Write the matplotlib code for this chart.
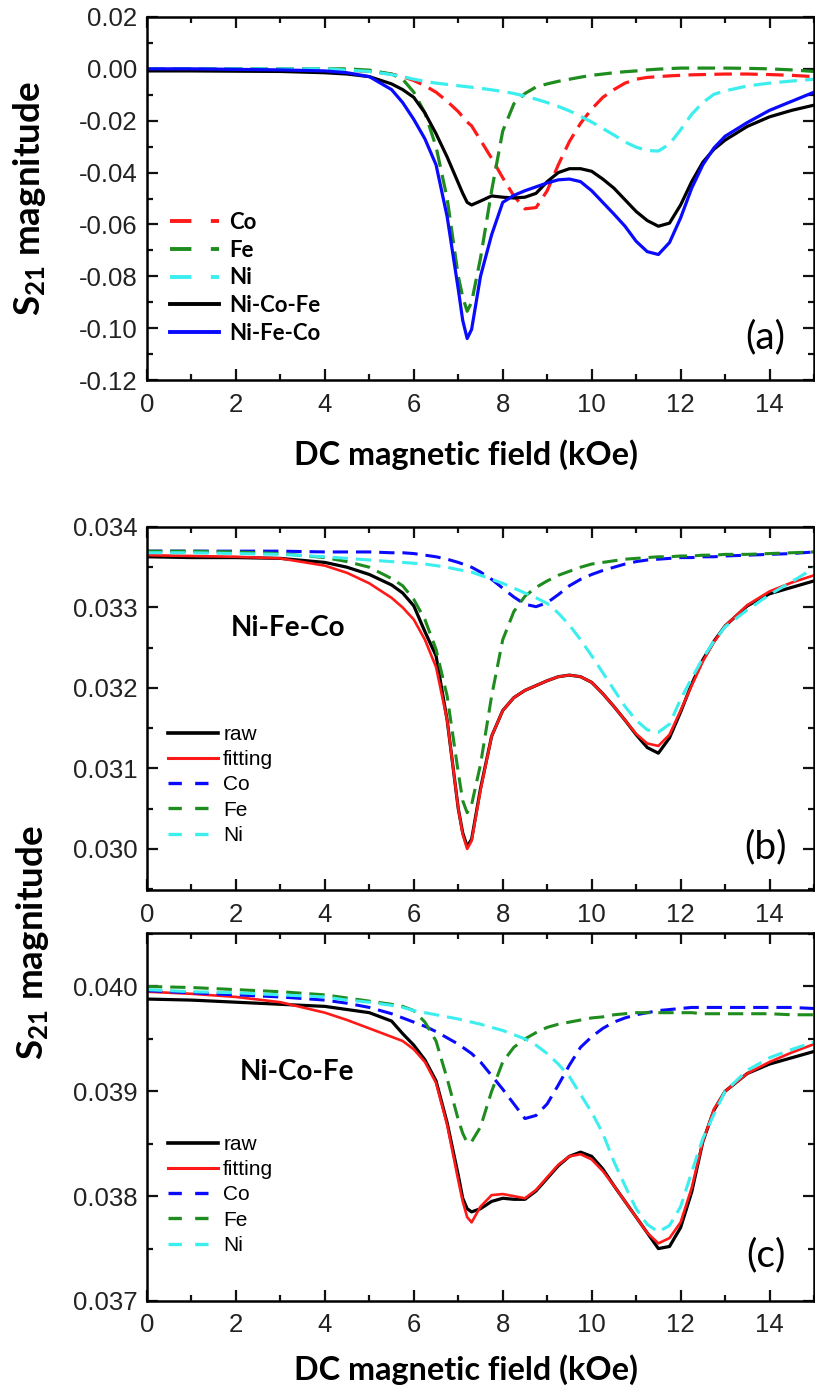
import matplotlib
matplotlib.use("Agg")
import matplotlib.pyplot as plt
from matplotlib.ticker import MultipleLocator, FixedLocator, FixedFormatter
from matplotlib.lines import Line2D

plt.rcParams['mathtext.fontset'] = 'custom'
plt.rcParams['mathtext.rm'] = 'Lato'
plt.rcParams['mathtext.bf'] = 'Lato:bold'
plt.rcParams['mathtext.it'] = 'Lato:italic'

# ---------------- data ----------------
H = [0, 1, 2, 3, 4, 4.5, 5, 5.5, 5.75, 6, 6.25, 6.5, 6.75, 7, 7.1, 7.2, 7.3, 7.5, 7.75,
     8, 8.25, 8.5, 8.75, 9, 9.25, 9.5, 9.75, 10, 10.25, 10.5, 10.75, 11, 11.25, 11.5, 11.75,
     12, 12.25, 12.5, 12.75, 13, 13.5, 14, 14.5, 15]

# panel (a)
a_co = [0, 0, 0, 0, -0.0003, -0.0005, -0.001, -0.002, -0.003, -0.0045, -0.0065, -0.009, -0.0125,
        -0.0165, -0.0185, -0.0205, -0.022, -0.0275, -0.0345, -0.042, -0.049, -0.054, -0.0535,
        -0.047, -0.037, -0.028, -0.021, -0.0155, -0.011, -0.008, -0.0055, -0.004, -0.0033, -0.003,
        -0.0027, -0.0025, -0.0023, -0.0022, -0.0021, -0.002, -0.002, -0.0022, -0.0025, -0.003]
a_fe = [0, 0, 0, 0, 0, 0, -0.0005, -0.002, -0.004, -0.009, -0.017, -0.03, -0.05, -0.08, -0.088,
        -0.0935, -0.09, -0.073, -0.047, -0.024, -0.0135, -0.0095, -0.007, -0.0058, -0.0048, -0.004,
        -0.0032, -0.0025, -0.002, -0.0015, -0.0011, -0.0008, -0.0004, -0.0001, 0.0001, 0.0003,
        0.0003, 0.0003, 0.0003, 0.0003, 0.0002, 0.0, -0.0004, -0.001]
a_ni = [0, 0, 0, 0, 0, -0.0005, -0.001, -0.0022, -0.003, -0.004, -0.0048, -0.0055, -0.006, -0.0065,
        -0.0067, -0.0069, -0.0071, -0.0075, -0.0081, -0.0087, -0.0095, -0.0105, -0.0117, -0.013,
        -0.0145, -0.0162, -0.0183, -0.0205, -0.023, -0.0255, -0.0282, -0.0302, -0.0315, -0.0317,
        -0.029, -0.0235, -0.0175, -0.013, -0.0098, -0.0085, -0.0066, -0.0055, -0.0047, -0.004]
a_nicofe = [-0.0008, -0.0008, -0.0009, -0.001, -0.0015, -0.002, -0.003, -0.0058, -0.008, -0.011,
            -0.017, -0.025, -0.034, -0.044, -0.048, -0.0515, -0.0525, -0.051, -0.049, -0.0495,
            -0.0498, -0.0495, -0.048, -0.0435, -0.04, -0.0385, -0.0385, -0.0395, -0.0425, -0.046,
            -0.0505, -0.055, -0.0585, -0.0607, -0.0595, -0.0525, -0.0435, -0.036, -0.031, -0.0275,
            -0.0222, -0.0185, -0.016, -0.014]
a_nifeco = [0.0, 0.0, -0.0002, -0.0004, -0.0008, -0.0015, -0.003, -0.008, -0.013, -0.0195, -0.027,
            -0.037, -0.057, -0.085, -0.097, -0.104, -0.1005, -0.08, -0.064, -0.0515, -0.0488, -0.047,
            -0.0455, -0.044, -0.0428, -0.0425, -0.0435, -0.047, -0.0515, -0.056, -0.0607, -0.0665,
            -0.0705, -0.0716, -0.067, -0.0575, -0.046, -0.037, -0.0305, -0.026, -0.0207, -0.016,
            -0.0125, -0.009]

# panel (b) Ni-Fe-Co
b_raw = [0.03363, 0.03362, 0.03362, 0.03361, 0.03356, 0.0335, 0.03341, 0.03328, 0.03318, 0.03302,
         0.0327, 0.0324, 0.0316, 0.0305, 0.0302, 0.03003, 0.03012, 0.03075, 0.0314, 0.03172,
         0.03188, 0.03197, 0.03203, 0.03209, 0.03214, 0.03216, 0.03214, 0.03207, 0.03193, 0.03177,
         0.0316, 0.03142, 0.03126, 0.03119, 0.03138, 0.0317, 0.03205, 0.03235, 0.03258, 0.03277,
         0.03302, 0.03317, 0.03325, 0.03333]
b_fit = [0.03365, 0.03364, 0.03363, 0.03361, 0.03352, 0.03343, 0.0333, 0.03312, 0.033, 0.03285,
         0.0326, 0.03226, 0.0316, 0.0305, 0.03018, 0.03, 0.0301, 0.03073, 0.0314, 0.03172, 0.03188,
         0.03197, 0.03203, 0.03209, 0.03214, 0.03216, 0.03214, 0.03207, 0.03193, 0.03177, 0.0316,
         0.03143, 0.03131, 0.03128, 0.03142, 0.03172, 0.03203, 0.03233, 0.03257, 0.03277, 0.03303,
         0.0332, 0.03331, 0.0334]
b_co = [0.0337, 0.0337, 0.0337, 0.0337, 0.03369, 0.03369, 0.03369, 0.03368, 0.03368, 0.03367,
        0.03365, 0.03363, 0.0336, 0.03356, 0.03354, 0.03352, 0.0335, 0.03344, 0.03335, 0.03324,
        0.03313, 0.03304, 0.03301, 0.03306, 0.03316, 0.03327, 0.03335, 0.03341, 0.03346, 0.0335,
        0.03354, 0.03357, 0.03359, 0.0336, 0.03361, 0.03362, 0.03362, 0.03363, 0.03363, 0.03364,
        0.03365, 0.03366, 0.03367, 0.03369]
b_fe = [0.0337, 0.0337, 0.03369, 0.03367, 0.03362, 0.03357, 0.0335, 0.03336, 0.03327, 0.0331,
        0.03285, 0.03248, 0.0319, 0.03095, 0.0306, 0.03045, 0.03055, 0.03105, 0.0319, 0.0326,
        0.03295, 0.03314, 0.03325, 0.03333, 0.0334, 0.03345, 0.0335, 0.03354, 0.03356, 0.03358,
        0.0336, 0.03361, 0.03362, 0.03363, 0.03363, 0.03364, 0.03364, 0.03365, 0.03365, 0.03366,
        0.03366, 0.03367, 0.03368, 0.03369]
b_ni = [0.03368, 0.03368, 0.03367, 0.03366, 0.03363, 0.03361, 0.03359, 0.03357, 0.03356, 0.03355,
        0.03354, 0.03352, 0.0335, 0.03347, 0.03346, 0.03345, 0.03344, 0.0334, 0.03335, 0.0333,
        0.03324, 0.03318, 0.03312, 0.03305, 0.03293, 0.03278, 0.0326, 0.0324, 0.03219, 0.03198,
        0.03177, 0.0316, 0.03148, 0.03145, 0.03155, 0.03186, 0.03212, 0.03237, 0.03258, 0.03276,
        0.03297, 0.03316, 0.03332, 0.03349]

# panel (c) Ni-Co-Fe
c_raw = [0.03988, 0.03987, 0.03985, 0.03983, 0.03981, 0.03978, 0.03975, 0.03967, 0.03955, 0.03944,
         0.0393, 0.0391, 0.0387, 0.0382, 0.03798, 0.03788, 0.03785, 0.03788, 0.03795, 0.03798,
         0.03797, 0.03797, 0.03805, 0.03817, 0.03829, 0.03838, 0.03842, 0.03838, 0.03826, 0.0381,
         0.03795, 0.0378, 0.03765, 0.0375, 0.03752, 0.0377, 0.03804, 0.03852, 0.03882, 0.039,
         0.03917, 0.03926, 0.03932, 0.03938]
c_fit = [0.03995, 0.03993, 0.0399, 0.03985, 0.03975, 0.03968, 0.0396, 0.03952, 0.03948, 0.0394,
         0.03928, 0.03908, 0.03868, 0.03815, 0.03795, 0.0378, 0.03775, 0.0379, 0.03801, 0.03802,
         0.038, 0.03798, 0.03806, 0.03818, 0.0383, 0.03838, 0.0384, 0.03835, 0.03824, 0.0381,
         0.03795, 0.0378, 0.03765, 0.03755, 0.0376, 0.03775, 0.03808, 0.03852, 0.03883, 0.039,
         0.03917, 0.03928, 0.03937, 0.03945]
c_co = [0.03996, 0.03994, 0.03992, 0.0399, 0.03987, 0.03984, 0.0398, 0.03974, 0.0397, 0.03966,
        0.03962, 0.03957, 0.03951, 0.03945, 0.03942, 0.03939, 0.03936, 0.03928, 0.03915, 0.03902,
        0.03888, 0.03874, 0.03877, 0.03888, 0.03906, 0.03925, 0.03942, 0.03952, 0.0396, 0.03966,
        0.0397, 0.03973, 0.03975, 0.03977, 0.03978, 0.03979, 0.0398, 0.0398, 0.0398, 0.0398,
        0.0398, 0.0398, 0.0398, 0.03979]
c_fe = [0.04, 0.03999, 0.03997, 0.03995, 0.03992, 0.03989, 0.03986, 0.03983, 0.03981, 0.03977,
        0.03966, 0.03948, 0.03912, 0.03873, 0.0386, 0.03851, 0.03852, 0.03866, 0.039, 0.03928,
        0.03942, 0.0395, 0.03956, 0.03961, 0.03964, 0.03966, 0.03968, 0.0397, 0.03971, 0.03973,
        0.03974, 0.03975, 0.03975, 0.03975, 0.03975, 0.03975, 0.03975, 0.03974, 0.03974, 0.03974,
        0.03974, 0.03974, 0.03973, 0.03973]
c_ni = [0.03997, 0.03995, 0.03994, 0.03992, 0.0399, 0.03987, 0.03985, 0.03982, 0.0398, 0.03977,
        0.03975, 0.03973, 0.03971, 0.03969, 0.03968, 0.03967, 0.03966, 0.03964, 0.03961, 0.03958,
        0.03954, 0.0395, 0.03944, 0.03936, 0.03926, 0.03914, 0.03897, 0.0388, 0.0386, 0.03833,
        0.0381, 0.03788, 0.03773, 0.03766, 0.03772, 0.0379, 0.03823, 0.03855, 0.03878, 0.039,
        0.0392, 0.03932, 0.0394, 0.03947]

x_ticks = [0, 2, 4, 6, 8, 10, 12, 14]
a_yticks = [0.02, 0.00, -0.02, -0.04, -0.06, -0.08, -0.10, -0.12]
a_ylabels = ['0.02', '0.00', '-0.02', '-0.04', '-0.06', '-0.08', '-0.10', '-0.12']
b_yticks = [0.030, 0.031, 0.032, 0.033, 0.034]
b_ylabels = ['0.030', '0.031', '0.032', '0.033', '0.034']
c_yticks = [0.037, 0.038, 0.039, 0.040]
c_ylabels = ['0.037', '0.038', '0.039', '0.040']

# ---------------- style ----------------
RED = '#ff1a1a'
GREEN = '#1e8c1e'
CYAN = '#3ceeee'
BLUE = '#0a0aff'
BLACK = '#000000'
TICKFONT = 'Liberation Sans'
BOLDFONT = 'Lato'

W, Hpx = 815, 1390
fig = plt.figure(figsize=(W / 100, Hpx / 100), dpi=100)


def add_ax(left, top, right, bottom):
    return fig.add_axes([left / W, 1 - bottom / Hpx, (right - left) / W, (bottom - top) / Hpx])


def style_axis(ax, yticks, ylabels, yminor, ylim):
    ax.set_xlim(0, 15)
    ax.set_ylim(*ylim)
    ax.xaxis.set_major_locator(FixedLocator(x_ticks))
    ax.xaxis.set_minor_locator(MultipleLocator(1))
    ax.yaxis.set_major_locator(FixedLocator(yticks))
    ax.yaxis.set_major_formatter(FixedFormatter(ylabels))
    ax.yaxis.set_minor_locator(MultipleLocator(yminor))
    ax.tick_params(which='both', direction='in', top=True, right=True, width=1.6, colors='#111111')
    ax.tick_params(which='major', length=8)
    ax.tick_params(which='minor', length=4.5)
    ax.tick_params(axis='x', pad=9, labelsize=18.5, labelcolor='#222222')
    ax.tick_params(axis='y', pad=7, labelsize=18.5, labelcolor='#222222')
    for lab in ax.get_xticklabels() + ax.get_yticklabels():
        lab.set_fontfamily(TICKFONT)
    for s in ax.spines.values():
        s.set_linewidth(1.8)


def fig_text(xpx, ypx, s, **kw):
    fig.text(xpx / W, 1 - ypx / Hpx, s, **kw)


DASH_A = (5.5, 2.6)
DASH_B = (5.0, 2.6)
XLABEL = 'DC magnetic field (kOe)'

# ---------------- panel (a) ----------------
axa = add_ax(147, 17, 814, 380)
axa.plot(H, a_co, color=RED, lw=2.3, dashes=DASH_A)
axa.plot(H, a_fe, color=GREEN, lw=2.3, dashes=DASH_A)
axa.plot(H, a_ni, color=CYAN, lw=2.3, dashes=DASH_A)
axa.plot(H, a_nicofe, color=BLACK, lw=2.3)
axa.plot(H, a_nifeco, color=BLUE, lw=2.3)
style_axis(axa, a_yticks, a_ylabels, 0.01, (-0.12, 0.02))
leg_a = [Line2D([], [], color=RED, lw=2.8, dashes=(5.5, 5)),
         Line2D([], [], color=GREEN, lw=2.8, dashes=(5.5, 5)),
         Line2D([], [], color=CYAN, lw=2.8, dashes=(5.5, 5)),
         Line2D([], [], color=BLACK, lw=2.8),
         Line2D([], [], color=BLUE, lw=2.8)]
axa.legend(leg_a, ['Co', 'Fe', 'Ni', 'Ni-Co-Fe', 'Ni-Fe-Co'], loc='upper left',
           bbox_to_anchor=((170 - 147) / 667, (380 - 212) / 363), frameon=False,
           prop={'family': BOLDFONT, 'weight': 'bold', 'size': 16}, handlelength=2.2,
           handletextpad=0.45, labelspacing=0.3, borderaxespad=0, borderpad=0)
axa.text(0.927, 0.118, '(a)', transform=axa.transAxes, ha='center', va='center',
         fontsize=28, family=BOLDFONT)
fig_text(466, 455, XLABEL, ha='center', va='center', fontsize=23.3, fontweight='bold',
         family=BOLDFONT)

# ---------------- panel (b) ----------------
axb = add_ax(147, 527, 814, 890)
axb.plot(H, b_raw, color=BLACK, lw=2.3)
axb.plot(H, b_fit, color=RED, lw=1.9)
axb.plot(H, b_co, color=BLUE, lw=2.2, dashes=DASH_B)
axb.plot(H, b_fe, color=GREEN, lw=2.2, dashes=DASH_B)
axb.plot(H, b_ni, color=CYAN, lw=2.2, dashes=DASH_B)
style_axis(axb, b_yticks, b_ylabels, 0.0005, (0.02949, 0.034))
fig_text(288, 628, 'Ni-Fe-Co', fontsize=20, fontweight='bold', family=BOLDFONT,
         ha='center', va='center')
axb.text(0.928, 0.118, '(b)', transform=axb.transAxes, ha='center', va='center',
         fontsize=28, family=BOLDFONT)


def leg_fit(ax, top_px, ax_top, ax_h):
    handles = [Line2D([], [], color=BLACK, lw=2.6),
               Line2D([], [], color=RED, lw=2.2),
               Line2D([], [], color=BLUE, lw=2.4, dashes=(4, 4)),
               Line2D([], [], color=GREEN, lw=2.4, dashes=(4, 4)),
               Line2D([], [], color=CYAN, lw=2.4, dashes=(4, 4))]
    ax.legend(handles, ['raw', 'fitting', 'Co', 'Fe', 'Ni'], loc='upper left',
              bbox_to_anchor=((168 - 147) / 667, (ax_top + ax_h - top_px) / ax_h), frameon=False,
              prop={'family': TICKFONT, 'size': 15}, handlelength=2.4, handletextpad=0.25,
              labelspacing=0.3, borderaxespad=0, borderpad=0)


leg_fit(axb, 725, 527, 363)

# ---------------- panel (c) ----------------
axc = add_ax(147, 933, 814, 1301)
axc.plot(H, c_raw, color=BLACK, lw=2.3)
axc.plot(H, c_fit, color=RED, lw=1.9)
axc.plot(H, c_co, color=BLUE, lw=2.2, dashes=DASH_B)
axc.plot(H, c_fe, color=GREEN, lw=2.2, dashes=DASH_B)
axc.plot(H, c_ni, color=CYAN, lw=2.2, dashes=DASH_B)
style_axis(axc, c_yticks, c_ylabels, 0.0005, (0.037, 0.04051))
fig_text(297, 1072, 'Ni-Co-Fe', fontsize=20, fontweight='bold', family=BOLDFONT,
         ha='center', va='center')
axc.text(0.928, 0.125, '(c)', transform=axc.transAxes, ha='center', va='center',
         fontsize=28, family=BOLDFONT)
fig_text(466, 1370, XLABEL, ha='center', va='center', fontsize=23.3, fontweight='bold',
         family=BOLDFONT)
leg_fit(axc, 1135, 933, 368)

# y labels
fig_text(30, 199, r'$\mathbf{S_{21}}$ magnitude', rotation=90, ha='center', va='center',
         fontsize=26.5, fontweight='bold', family=BOLDFONT)
fig_text(33, 943, r'$\mathbf{S_{21}}$ magnitude', rotation=90, ha='center', va='center',
         fontsize=26.5, fontweight='bold', family=BOLDFONT)

fig.savefig('out.png', dpi=100)
